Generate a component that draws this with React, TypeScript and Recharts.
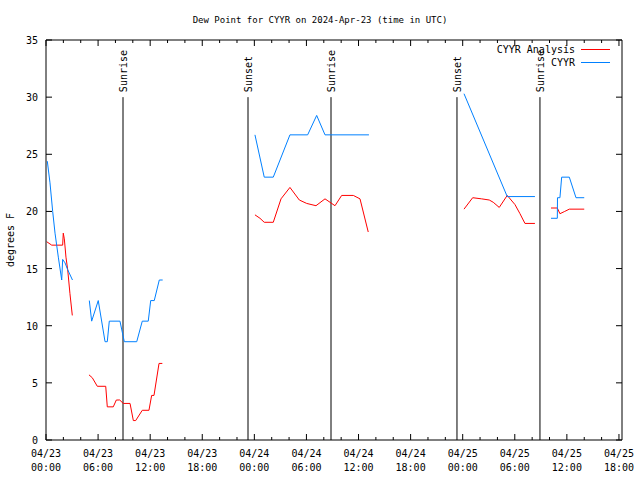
import React from 'react';
import { LineChart, Line, XAxis, YAxis, ReferenceLine } from 'recharts';

// hours since 2024-04-23 00:00 UTC, dew point °F
const analysis1: number[][] = [[0.08,17.35],[0.66,17.05],[1.92,17.05],[1.99,18.1],[2.11,17.6],[2.3,16.0],[2.5,14.9],[2.76,12.8],[3.03,10.9]];
const analysis2: number[][] = [[4.95,5.7],[5.33,5.45],[5.91,4.7],[6.88,4.7],[7.06,2.9],[7.75,2.9],[8.1,3.5],[8.49,3.5],[8.9,3.2],[9.68,3.2],[10.06,1.7],[10.33,1.7],[11.09,2.6],[11.86,2.6],[12.17,3.9],[12.44,3.9],[13.02,6.7],[13.4,6.7]];
const analysis3: number[][] = [[24.07,19.7],[24.65,19.4],[25.14,19.05],[26.18,19.05],[27.07,21.1],[28.1,22.1],[29.18,21.0],[30.03,20.7],[31.1,20.5],[32.14,21.1],[33.29,20.5],[34.06,21.4],[35.4,21.4],[36.17,21.1],[37.12,18.2]];
const analysis4: number[][] = [[48.15,20.2],[49.15,21.2],[50.18,21.1],[51.06,21.0],[51.52,20.8],[52.21,20.35],[53.13,21.4],[54.02,20.6],[54.6,19.8],[55.17,18.95],[56.32,18.95]];
const analysis5: number[][] = [[58.17,20.3],[58.9,20.3],[59.2,19.8],[59.75,20.0],[60.28,20.2],[62.0,20.2]];

const obs1: number[][] = [[0.15,24.4],[0.46,22.5],[0.77,20.0],[1.04,18.1],[1.42,16.0],[1.81,14.0],[1.92,15.8],[2.19,15.5],[2.5,14.9],[3.05,14.0]];
const obs2: number[][] = [[4.99,12.2],[5.26,10.4],[6.02,12.2],[6.8,8.6],[7.06,8.6],[7.29,10.4],[8.52,10.4],[9.02,8.6],[10.45,8.6],[11.09,10.4],[11.78,10.4],[12.06,12.2],[12.47,12.2],[13.05,14.0],[13.44,14.0]];
const obs3: number[][] = [[24.07,26.7],[25.14,23.0],[26.18,23.0],[28.1,26.7],[30.14,26.7],[31.18,28.4],[32.14,26.7],[37.2,26.7]];
const obs4: number[][] = [[48.15,30.3],[53.13,21.3],[56.32,21.3]];
const obs5: number[][] = [[58.17,19.4],[58.9,19.4],[58.92,21.2],[59.2,21.2],[59.4,23.0],[60.28,23.0],[61.05,21.2],[62.0,21.2]];

const analysisSegments = [analysis1, analysis2, analysis3, analysis4, analysis5];
const obsSegments = [obs1, obs2, obs3, obs4, obs5];

const sunHours = [8.87, 23.27, 32.83, 47.34, 56.9];
const sunLabels = ['Sunrise', 'Sunset', 'Sunrise', 'Sunset', 'Sunrise'];

const xTicks = Array.from({ length: 34 }, (_, i) => i * 2);
const xTickDates = ['04/23', '04/23', '04/23', '04/23', '04/24', '04/24', '04/24', '04/24', '04/25', '04/25', '04/25', '04/25'];
const xTickTimes = ['00:00', '06:00', '12:00', '18:00', '00:00', '06:00', '12:00', '18:00', '00:00', '06:00', '12:00', '18:00'];
const yTicks = [0, 5, 10, 15, 20, 25, 30, 35];

const FONT = '"DejaVu Sans Mono", monospace';
const FS = 10;
const RED = '#ff0000';
const BLUE = '#0080ff';

const toPts = (seg: number[][]) => seg.map(([h, v]) => ({ h, v }));

const BottomTick = (p: any) => {
  const h = p.payload.value;
  const major = h % 6 === 0;
  const i = h / 6;
  return (
    <g>
      <line x1={p.x} x2={p.x} y1={p.y} y2={p.y - (major ? 6 : 3)} stroke="#000" />
      {major && (
        <text x={p.x} y={p.y + 17} textAnchor="middle" fontFamily={FONT} fontSize={FS} fill="#000">{xTickDates[i]}</text>
      )}
      {major && (
        <text x={p.x} y={p.y + 31} textAnchor="middle" fontFamily={FONT} fontSize={FS} fill="#000">{xTickTimes[i]}</text>
      )}
    </g>
  );
};

const TopTick = (p: any) => {
  const major = p.payload.value % 6 === 0;
  return <line x1={p.x} x2={p.x} y1={p.y} y2={p.y + (major ? 6 : 3)} stroke="#000" />;
};

const LeftTick = (p: any) => (
  <g>
    <line x1={p.x} x2={p.x + 6} y1={p.y} y2={p.y} stroke="#000" />
    <text x={p.x - 8} y={p.y + 4} textAnchor="end" fontFamily={FONT} fontSize={FS} fill="#000">{p.payload.value}</text>
  </g>
);

const RightTick = (p: any) => <line x1={p.x} x2={p.x - 6} y1={p.y} y2={p.y} stroke="#000" />;

const sunShape = (label: string) => (p: any) => {
  const top = Math.min(p.y1, p.y2);
  return (
    <g>
      <line x1={p.x1} y1={p.y1} x2={p.x2} y2={p.y2} stroke="#000" strokeWidth={1} />
      <text transform={`translate(${p.x1 + 4},${top - 5}) rotate(-90)`} fontFamily={FONT} fontSize={FS} fill="#000">{label}</text>
    </g>
  );
};

export default function App() {
  return (
    <div style={{ position: 'absolute', left: 0, top: 0, width: 640, height: 480, background: '#fff' }}>
      <LineChart width={640} height={480} margin={{ top: 39, right: 17, bottom: 10, left: 6 }}>
        <XAxis type="number" dataKey="h" domain={[0, 66.35]} ticks={xTicks} interval={0} allowDataOverflow
          tickLine={false} tickSize={0} tickMargin={0} tick={<BottomTick />} height={30} stroke="#000" />
        <XAxis xAxisId="top" orientation="top" type="number" dataKey="h" domain={[0, 66.35]} ticks={xTicks} interval={0} allowDataOverflow
          tickLine={false} tickSize={0} tickMargin={0} tick={<TopTick />} height={1} stroke="#000" />
        <YAxis type="number" domain={[0, 35]} ticks={yTicks} interval={0} allowDataOverflow
          tickLine={false} tickSize={0} tickMargin={0} tick={<LeftTick />} width={40} stroke="#000" />
        <YAxis yAxisId="right" orientation="right" type="number" domain={[0, 35]} ticks={yTicks} interval={0} allowDataOverflow
          tickLine={false} tickSize={0} tickMargin={0} tick={<RightTick />} width={1} stroke="#000" />
        {sunHours.map((h, i) => (
          <ReferenceLine key={'s' + i} segment={[{ x: h, y: 0 }, { x: h, y: 30 }]} shape={sunShape(sunLabels[i])} ifOverflow="visible" />
        ))}
        {analysisSegments.map((seg, i) => (
          <Line key={'a' + i} data={toPts(seg)} dataKey="v" type="linear" stroke={RED} strokeWidth={1} dot={false} activeDot={false} isAnimationActive={false} />
        ))}
        {obsSegments.map((seg, i) => (
          <Line key={'o' + i} data={toPts(seg)} dataKey="v" type="linear" stroke={BLUE} strokeWidth={1} dot={false} activeDot={false} isAnimationActive={false} />
        ))}
      </LineChart>
      <div style={{ position: 'absolute', left: 0, top: 14, width: 640, textAlign: 'center', fontFamily: FONT, fontSize: 9, lineHeight: '12px', color: '#000' }}>
        Dew Point for CYYR on 2024-Apr-23 (time in UTC)
      </div>
      <div style={{ position: 'absolute', left: 10, top: 240, transform: 'translate(-50%, -50%) rotate(-90deg)', fontFamily: FONT, fontSize: FS, whiteSpace: 'nowrap', color: '#000' }}>
        degrees F
      </div>
      <svg style={{ position: 'absolute', left: 480, top: 40 }} width={140} height={30}>
        <text x={95} y={13} textAnchor="end" fontFamily={FONT} fontSize={FS} fill="#000">CYYR Analysis</text>
        <line x1={101} x2={130} y1={9.5} y2={9.5} stroke={RED} />
        <text x={95} y={26} textAnchor="end" fontFamily={FONT} fontSize={FS} fill="#000">CYYR</text>
        <line x1={101} x2={130} y1={22.5} y2={22.5} stroke={BLUE} />
      </svg>
    </div>
  );
}
